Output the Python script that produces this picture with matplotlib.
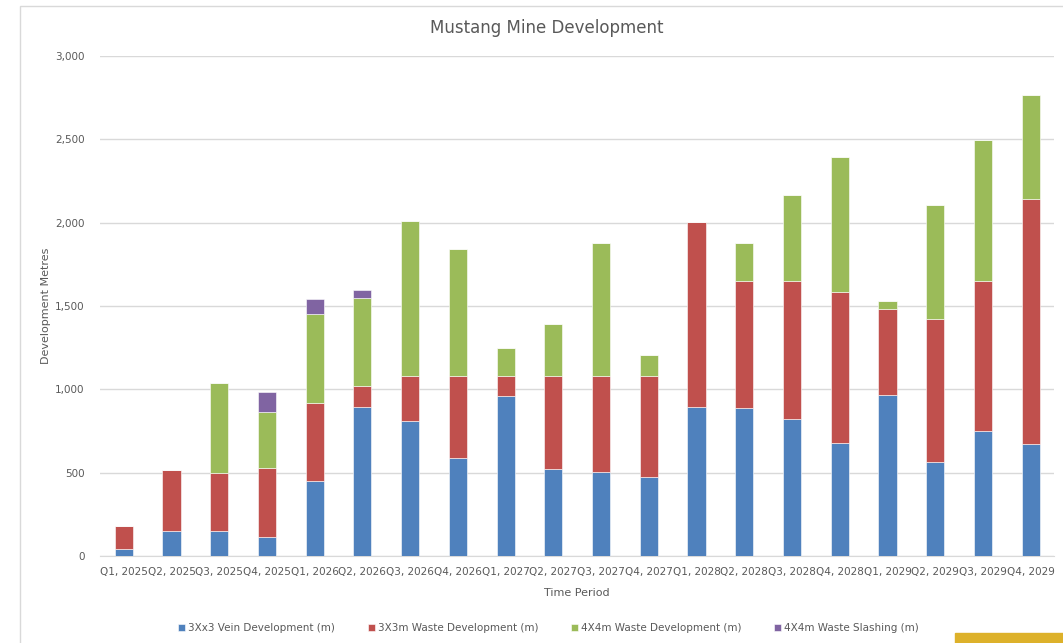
import matplotlib
matplotlib.use("Agg")
import numpy as np
from matplotlib import pyplot as plt
from matplotlib.patches import Rectangle

periods = ["Q1, 2025", "Q2, 2025", "Q3, 2025", "Q4, 2025",
           "Q1, 2026", "Q2, 2026", "Q3, 2026", "Q4, 2026",
           "Q1, 2027", "Q2, 2027", "Q3, 2027", "Q4, 2027",
           "Q1, 2028", "Q2, 2028", "Q3, 2028", "Q4, 2028",
           "Q1, 2029", "Q2, 2029", "Q3, 2029", "Q4, 2029"]

# segment sizes
vein = [40, 148, 152, 112, 452, 894, 808, 590, 958, 524, 506, 476,
        894, 886, 822, 676, 966, 564, 750, 670]
waste_3x3 = [140, 368, 348, 418, 466, 128, 270, 488, 120, 554, 572, 602,
             1110, 766, 830, 910, 516, 860, 902, 1472]
waste_4x4 = [0, 0, 540, 332, 532, 524, 934, 766, 170, 314, 798, 130,
             0, 224, 514, 806, 50, 684, 844, 626]
slashing = [0, 0, 0, 120, 94, 50, 0, 0, 0, 0, 0, 0,
            0, 0, 0, 0, 0, 0, 0, 0]

series_names = ["3Xx3 Vein Development (m)", "3X3m Waste Development (m)",
                "4X4m Waste Development (m)", "4X4m Waste Slashing (m)"]
colors = ["#4F81BD", "#C0504D", "#9BBB59", "#8064A2"]

txt = "#595959"

fig = plt.figure(figsize=(10.63, 6.43), dpi=100)
ax = fig.add_axes([0.094, 0.1353, 0.898, 0.7776])

x = np.arange(len(periods))
bottom = np.zeros(len(periods))
for vals, name, c in zip([vein, waste_3x3, waste_4x4, slashing], series_names, colors):
    ax.bar(x, vals, 0.38, bottom=bottom, color=c, label=name,
           edgecolor="white", linewidth=0.4, zorder=3)
    bottom += np.array(vals)

ax.set_xlim(-0.5, len(periods) - 0.5)
ax.set_ylim(0, 3000)
ax.set_yticks(range(0, 3001, 500))
ax.set_yticklabels([f"{v:,}" for v in range(0, 3001, 500)])
ax.set_xticks(x)
ax.set_xticklabels(periods)
ax.tick_params(axis="both", length=0, colors=txt, labelsize=7.5)
ax.tick_params(axis="y", pad=11)
ax.tick_params(axis="x", pad=8)
ax.grid(axis="y", color="#d9d9d9", linewidth=1, zorder=0)
for s in ["top", "right", "left"]:
    ax.spines[s].set_visible(False)
ax.spines["bottom"].set_color("#d9d9d9")

fig.text(547 / 1063, 1 - 28 / 643, "Mustang Mine Development", fontsize=12,
         color=txt, ha="center", va="center")
ax.set_xlabel("Time Period", fontsize=8, color=txt, labelpad=8)
ax.set_ylabel("Development Metres", fontsize=8, color=txt, labelpad=3)

ax.legend(loc="upper center", bbox_to_anchor=(0.47, -0.115), ncol=4, frameon=False,
          fontsize=7.5, labelcolor=txt, handlelength=0.7, handleheight=0.7,
          handletextpad=0.3, columnspacing=3.1)

# chart area border and the screenshot's edge bits
fig.patches.append(Rectangle((20 / 1063, -0.01), 1.0, 1.0, transform=fig.transFigure,
                             fill=False, edgecolor="#d9d9d9", linewidth=1))
fig.patches.append(Rectangle((955 / 1063, 0), 108 / 1063, 10 / 643, transform=fig.transFigure,
                             color="#DDB12A"))

fig.savefig("out.png", dpi=100)
